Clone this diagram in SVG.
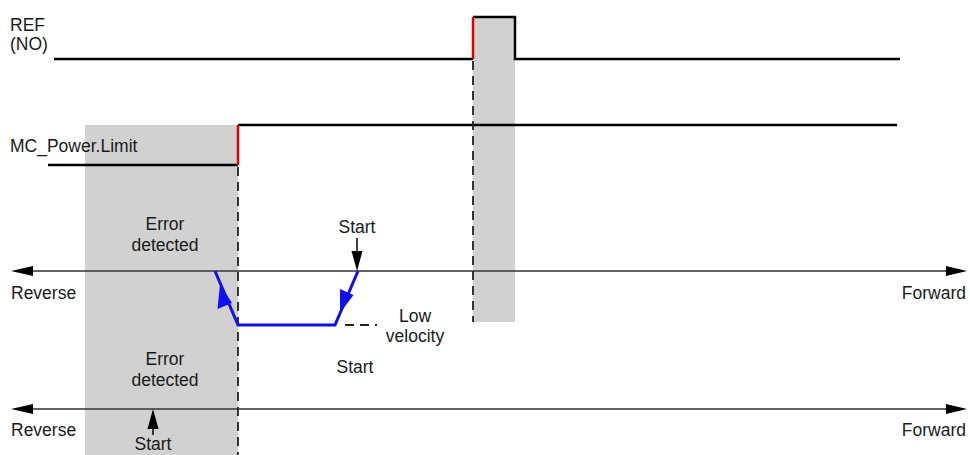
<svg xmlns="http://www.w3.org/2000/svg" width="970" height="455" viewBox="0 0 970 455">
<defs>
<style>
text{font-family:"Liberation Sans",Arial,sans-serif;font-size:17.5px;fill:#1a1a1a}
.c{text-anchor:middle}
.sig{fill:none;stroke:#000;stroke-width:2.5}
.red{fill:none;stroke:#e00000;stroke-width:2.5}
.dash{fill:none;stroke:#222;stroke-width:1.8;stroke-dasharray:9,6}
.axis{fill:none;stroke:#333;stroke-width:1.5}
.blue{fill:none;stroke:#1010f0;stroke-width:3}
.shade{fill:#d1d1d1}
</style>
</defs>
<g id="shading">
<rect class="shade" x="85" y="125" width="153" height="330"/>
<rect class="shade" x="473" y="17" width="42" height="305"/>
</g>
<g id="ref-signal">
<text x="10" y="31">REF</text>
<text x="10" y="50">(NO)</text>
<path class="sig" d="M54,59 H473 M473,17 H515 V59 H900"/>
<path class="red" d="M473,59 V17"/>
</g>
<g id="power-limit">
<text x="10" y="152">MC_Power.Limit</text>
<path class="sig" d="M48,165 H238 M238,125 H897"/>
<path class="red" d="M238,165 V125"/>
</g>
<g id="axis1">
<path class="axis" d="M28,271 H950"/>
<path d="M11,271 L33,266 L33,276 Z" fill="#000"/>
<path d="M967,271 L946,266 L946,276 Z" fill="#000"/>
<text x="11" y="299">Reverse</text>
<text x="966" y="299" text-anchor="end">Forward</text>
<text class="c" x="165" y="230">Error</text>
<text class="c" x="165" y="251">detected</text>
<text class="c" x="357" y="233">Start</text>
<text class="c" x="415" y="322">Low</text>
<text class="c" x="415" y="342">velocity</text>
<text class="c" x="355" y="373">Start</text>
</g>
<g id="axis2">
<path class="axis" d="M28,409 H950"/>
<path d="M11,409 L33,404 L33,414 Z" fill="#000"/>
<path d="M967,409 L946,404 L946,414 Z" fill="#000"/>
<text x="11" y="436">Reverse</text>
<text x="966" y="436" text-anchor="end">Forward</text>
<text class="c" x="165" y="365">Error</text>
<text class="c" x="165" y="386">detected</text>
<text class="c" x="153" y="450">Start</text>
</g>
<g id="connectors">
<path class="dash" d="M238,167 V455"/>
<path class="dash" d="M473,61 V322"/>
<path class="dash" d="M345,325 H377"/>
<path class="blue" d="M215,271 L238,325 H335 L358,271"/>
<path d="M220,284 L217.5,309 L232,303 Z" fill="#1010f0"/>
<path d="M340,313 L340,289 L353.5,295 Z" fill="#1010f0"/>
<path d="M357,238 V256" stroke="#000" stroke-width="1.5"/>
<path d="M357,271 L351.5,251 L362.5,251 Z" fill="#000"/>
<path d="M153,435 V422" stroke="#000" stroke-width="1.5"/>
<path d="M153,409 L147.5,429 L158.5,429 Z" fill="#000"/>
</g>
</svg>
